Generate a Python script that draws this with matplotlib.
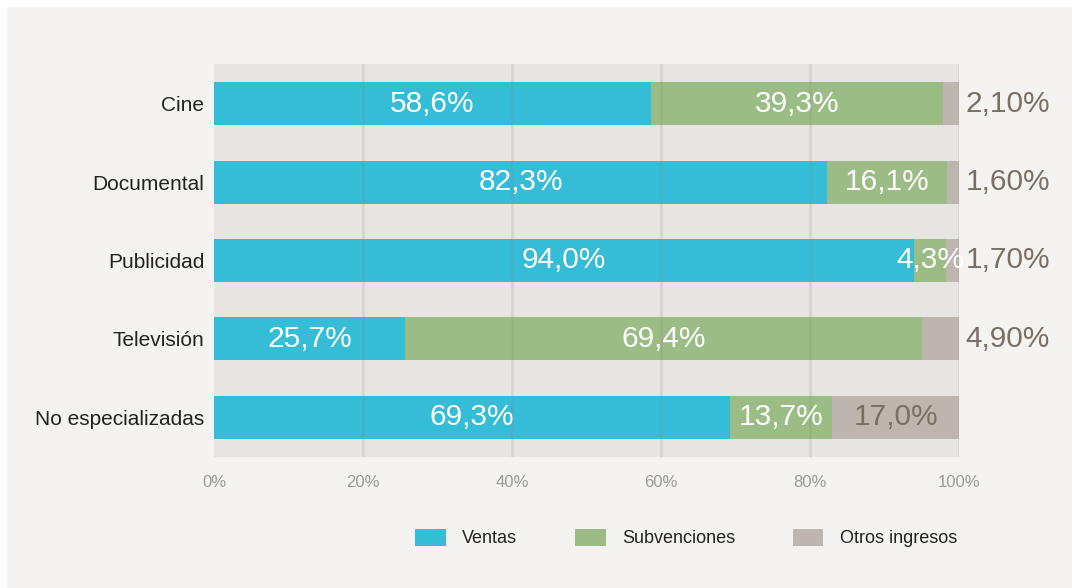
import matplotlib
matplotlib.use("Agg")
import matplotlib.pyplot as plt
from matplotlib.patches import Rectangle

categories = ["Cine", "Documental", "Publicidad", "Televisión", "No especializadas"]
ventas = [58.6, 82.3, 94.0, 25.7, 69.3]
subvenciones = [39.3, 16.1, 4.3, 69.4, 13.7]
otros = [2.1, 1.6, 1.7, 4.9, 17.0]
otros_labels = ["2,10%", "1,60%", "1,70%", "4,90%", "17,0%"]
otros_inside = [False, False, False, False, True]
series_names = ["Ventas", "Subvenciones", "Otros ingresos"]
xticks = [0, 20, 40, 60, 80, 100]
xtick_labels = ["0%", "20%", "40%", "60%", "80%", "100%"]

C_BLUE = "#35bcd6"
C_GREEN = "#9bbc84"
C_GRAY = "#bdb5ae"
C_TXT_BROWN = "#7a6f63"
FONT = "Liberation Sans"
VFONT = "Liberation Sans"

W, H = 1072, 588
fig = plt.figure(figsize=(W / 100, H / 100), dpi=100)
fig.patch.set_facecolor("white")
fig.add_artist(Rectangle((7 / W, 0), 1 - 7 / W, 1 - 7 / H, transform=fig.transFigure,
                         facecolor="#f4f3f1", edgecolor="none", zorder=-10))

ax = fig.add_axes([214 / W, 1 - 457 / H, (959 - 214) / W, (457 - 64) / H])
ax.set_facecolor("#e7e5e1")

y = list(range(len(categories)))
bh = 0.55
left2 = [a for a in ventas]
left3 = [a + b for a, b in zip(ventas, subvenciones)]
b1 = ax.barh(y, ventas, height=bh, color=C_BLUE, zorder=2)
b2 = ax.barh(y, subvenciones, left=left2, height=bh, color=C_GREEN, zorder=2)
b3 = ax.barh(y, otros, left=left3, height=bh, color=C_GRAY, zorder=2)

ax.set_xlim(0, 100)
ax.set_ylim(len(categories) - 0.49, -0.51)
ax.set_xticks(xticks)
ax.set_xticklabels(xtick_labels, fontsize=12, color="#9a9a9a", family=FONT)
ax.set_yticks(y)
ax.set_yticklabels(categories, fontsize=15, color="#222222", family=FONT)
ax.tick_params(axis="x", length=0, pad=13)
ax.tick_params(axis="y", length=0, pad=7)
for s in ax.spines.values():
    s.set_visible(False)
for gx in xticks[1:]:
    ax.axvline(gx, color="#8a8680", alpha=0.17, linewidth=2, zorder=5)

def fmt(v):
    return f"{v:.1f}".replace(".", ",") + "%"

lab_fs = 21.5
vkw = dict(fontsize=lab_fs, family=VFONT, zorder=6)
for i in y:
    ax.text(ventas[i] / 2, i, fmt(ventas[i]), ha="center", va="center", color="white", **vkw)
    ax.text(left2[i] + subvenciones[i] / 2, i, fmt(subvenciones[i]), ha="center", va="center",
            color="white", **vkw)
    if otros_inside[i]:
        ax.text(left3[i] + otros[i] / 2, i, otros_labels[i], ha="center", va="center",
                color=C_TXT_BROWN, **vkw)
    else:
        ax.annotate(otros_labels[i], xy=(100, i), xytext=(4.5, 0), textcoords="offset points",
                    ha="left", va="center", color=C_TXT_BROWN, annotation_clip=False, **vkw)

leg = fig.legend([b1, b2, b3], series_names, loc="center", bbox_to_anchor=(686 / W, 1 - 538 / H),
                 ncol=3, frameon=False, prop={"family": FONT, "size": 13},
                 handlelength=1.7, handleheight=1.1, handletextpad=0.9, columnspacing=3.2)
for t in leg.get_texts():
    t.set_color("#222222")

fig.savefig("out.png", dpi=100, facecolor=fig.get_facecolor())
